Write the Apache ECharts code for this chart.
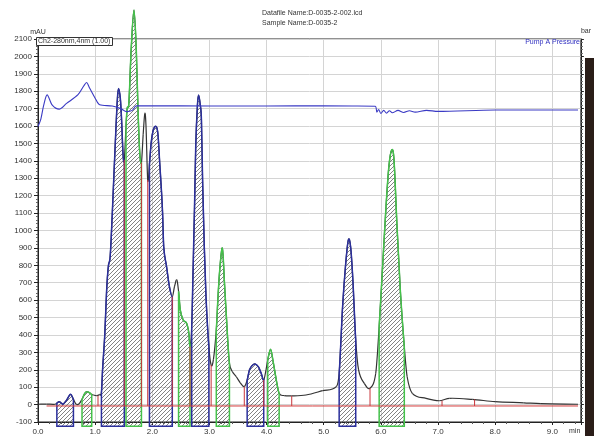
<!DOCTYPE html>
<html><head><meta charset="utf-8">
<script src="https://cdn.jsdelivr.net/npm/echarts@6/dist/echarts.min.js"></script>
<style>html,body{margin:0;padding:0;background:#fff}#c{width:594px;height:436px}</style>
</head><body><div id="c"></div>
<script>
// ---- chromatogram trace (time in min, signal in mAU) ----
const traceT = [0.00,0.15,0.30,0.33,0.37,0.41,0.44,0.50,0.57,0.62,0.67,0.72,0.77,0.82,0.86,0.90,0.94,0.97,1.02,1.08,
  1.11,1.13,1.17,1.20,1.23,1.26,1.28,1.31,1.36,1.39,1.41,1.44,1.46,1.49,1.51,1.54,1.56,1.59,1.63,1.68,1.72,1.75,1.78,1.81,
  1.84,1.87,1.89,1.92,1.95,1.98,2.02,2.07,2.10,2.13,2.16,2.18,2.20,2.25,2.30,2.35,2.39,2.43,2.46,2.49,2.54,2.60,2.64,2.66,
  2.69,2.71,2.74,2.76,2.79,2.81,2.84,2.86,2.88,2.91,2.94,2.99,3.03,3.07,3.12,3.15,3.18,3.22,3.24,3.26,3.32,3.35,3.40,3.47,
  3.54,3.61,3.66,3.70,3.75,3.80,3.86,3.91,3.95,3.99,4.02,4.07,4.11,4.17,4.22,4.31,4.44,4.69,4.98,5.22,5.27,5.33,5.38,5.43,
  5.47,5.51,5.56,5.61,5.71,5.81,5.91,5.97,6.03,6.09,6.14,6.19,6.23,6.28,6.34,6.41,6.46,6.55,6.79,7.02,7.20,7.60,8.00,8.50,8.80,9.45];
const traceV = [2,3,2,8,17,8,3,25,59,30,2,5,30,65,74,68,58,55,51,58,
  70,200,411,650,792,840,950,1175,1559,1760,1815,1760,1654,1430,1405,1600,1700,1730,2037,2266,2037,1692,1450,1390,
  1550,1673,1600,1290,1380,1502,1580,1596,1550,1388,1230,1100,907,792,677,620,680,716,650,543,486,467,410,333,
  450,716,1150,1482,1720,1778,1720,1635,1290,907,620,333,227,260,429,620,773,898,850,716,371,237,190,160,
  125,103,140,199,225,233,215,175,141,200,256,318,256,141,65,52,50,55,80,103,180,562,792,945,
  907,716,371,199,122,94,180,447,792,1137,1367,1463,1405,1041,658,333,160,65,36,22,36,30,17,10,5,2];

// ---- pump A pressure trace ----
const pressureT = [0.00,0.05,0.10,0.16,0.25,0.37,0.50,0.70,0.80,0.85,0.90,1.00,1.08,1.30,1.45,1.55,1.65,1.72,2.50,3.50,4.50,5.50,5.90,
  5.93,5.96,6.00,6.05,6.10,6.15,6.20,6.30,6.40,6.50,6.60,6.80,7.00,8.00,9.45];
const pressureV = [1597,1640,1720,1779,1720,1697,1730,1780,1830,1850,1820,1760,1722,1715,1700,1683,1690,1716,1716,1715,1716,1715,1714,
  1680,1695,1672,1690,1674,1688,1676,1690,1678,1688,1680,1690,1684,1692,1692,1694];

// ---- integrated peak regions ----
const regionStart = [0.33,0.77,1.11,1.54,1.95,2.46,2.69,3.12,3.66,4.02,5.27,5.97];
const regionEnd   = [0.62,0.94,1.51,1.81,2.35,2.66,2.99,3.35,3.95,4.22,5.56,6.41];
const regionKind  = ['b','g','b','g','b','g','b','g','b','g','b','g'];

// ---- peak number labels ----
const peakLabelT = [0.86,1.30,1.68,2.19,2.57,2.83,3.23,3.80,4.14,5.44,6.19];
const peakLabelV = [45,917,2000,898,413,1510,658,180,203,815,1286];
const peakLabelText = ['2','3','4','5','6','7','8','9','10','11','12'];

// ---- baseline drop lines ----
const dropT = [1.05,1.51,1.81,1.92,2.35,2.66,3.03,3.61,3.95,4.44,5.81,7.07,7.64];
const dropV = [51,1405,1390,1290,620,333,227,103,141,50,94,22,30];
const baselineValue = -8;
const baselineRange = [0.15,9.45];
const boxFloor = -125;

// ---- axis ticks ----
const yMin = -100, yMax = 2100, yStep = 100;
const xMin = 0, xMax = 9.5, xStep = 1;

const kindColor = {b:'#2b2f9c', g:'#44c24a'};

const hatch = document.createElement('canvas');
hatch.width = 4; hatch.height = 4;
(function(){
  const c = hatch.getContext('2d');
  c.strokeStyle = '#5a5a5a'; c.lineWidth = 0.75;
  c.beginPath();
  c.moveTo(0,4); c.lineTo(4,0);
  c.moveTo(-1,1); c.lineTo(1,-1);
  c.moveTo(3,5); c.lineTo(5,3);
  c.stroke();
})();

// cubic Hermite (x-monotone) spline through pixel points -> SVG path commands
function slopes(p){
  const n = p.length, m = [];
  for (let i = 0; i < n; i++) {
    const a = p[Math.max(0,i-1)], b = p[Math.min(n-1,i+1)];
    m.push((b[1]-a[1]) / ((b[0]-a[0]) || 1e-6));
  }
  return m;
}
function segCmd(p, m, i){
  const a = p[i], b = p[i+1], dx = (b[0]-a[0]) / 3;
  return 'C' + (a[0]+dx) + ' ' + (a[1]+m[i]*dx) + ' ' + (b[0]-dx) + ' ' + (b[1]-m[i+1]*dx) + ' ' + b[0] + ' ' + b[1];
}

function regionIdx(i){
  const ts = regionStart[i], te = regionEnd[i], idx = [];
  for (let k = 0; k < traceT.length; k++) if (traceT[k] >= ts - 1e-9 && traceT[k] <= te + 1e-9) idx.push(k);
  return idx;
}

const chart = echarts.init(document.getElementById('c'), null, {renderer:'canvas'});
const font = 'Liberation Sans, Arial, sans-serif';
const tracePts = traceT.map((t,i)=>[t,traceV[i]]);

chart.setOption({
  animation:false,
  textStyle:{fontFamily:font},
  title:[
    {text:'Datafile Name:D-0035-2-002.lcd\nSample Name:D-0035-2', left:262, top:8, padding:0,
     textStyle:{fontSize:7, fontWeight:'normal', color:'#333', lineHeight:10, fontFamily:font}},
    {text:'Ch2-280nm,4nm (1.00)', left:36, top:37, padding:[1,2,1,2], borderColor:'#333', borderWidth:1, backgroundColor:'#fff',
     textStyle:{fontSize:7, fontWeight:'normal', color:'#333', fontFamily:font}},
    {text:'Pump A Pressure', right:14, top:39, padding:0,
     textStyle:{fontSize:7, fontWeight:'normal', color:'#2f2fc0', fontFamily:font}}
  ],
  grid:{left:38, right:12, top:39, bottom:14, show:true, borderColor:'#222', borderWidth:1, containLabel:false},
  xAxis:{type:'value', min:xMin, max:xMax, interval:xStep,
    axisLine:{onZero:false, lineStyle:{color:'#222'}},
    axisTick:{show:true, length:3, lineStyle:{color:'#222'}},
    minorTick:{show:true, splitNumber:5, length:2, lineStyle:{color:'#555'}},
    axisLabel:{fontSize:8, color:'#333', margin:6, showMaxLabel:false,
      formatter:v => Math.abs(v - Math.round(v)) < 1e-6 ? v.toFixed(1) : ''},
    splitLine:{show:true, lineStyle:{color:'#d4d4d4', width:1}}
  },
  yAxis:[
    {type:'value', min:yMin, max:yMax, interval:yStep, name:'mAU', nameGap:1,
     nameTextStyle:{fontSize:7, color:'#333', align:'center'},
     axisLine:{show:true, lineStyle:{color:'#222'}},
     axisTick:{show:true, length:4, lineStyle:{color:'#222'}},
     minorTick:{show:true, splitNumber:5, length:2, lineStyle:{color:'#666'}},
     axisLabel:{fontSize:8, color:'#333', margin:6, formatter:v => String(v)},
     splitLine:{show:true, lineStyle:{color:'#d4d4d4', width:1}}},
    {type:'value', min:yMin, max:yMax, interval:yStep, position:'right', name:'bar', nameGap:4,
     nameTextStyle:{fontSize:7, color:'#333', align:'left'},
     axisLine:{show:true, lineStyle:{color:'#222'}},
     axisTick:{show:true, length:3, lineStyle:{color:'#222'}},
     minorTick:{show:true, splitNumber:5, length:2, lineStyle:{color:'#666'}},
     axisLabel:{show:false}, splitLine:{show:false}}
  ],
  graphic:[
    {type:'rect', shape:{x:585, y:58, width:9, height:378}, style:{fill:'#2a1d18'}, z:100},
    {type:'text', x:569, y:428, style:{text:'min', fontSize:7, fill:'#333', fontFamily:font}, z:100}
  ],
  series:[
    {type:'custom', name:'signal', clip:false, z:2,
     data:tracePts.slice(0,-1).map((p,i)=>[p[0], p[1], i]),
     encode:{x:0, y:1},
     renderItem:function(params, api){
       const px = tracePts.map(p => api.coord(p));
       const m = slopes(px);
       const i = api.value(2);
       const d = 'M' + px[i][0] + ' ' + px[i][1] + segCmd(px, m, i);
       return {type:'path', shape:{pathData:d}, style:{fill:null, stroke:'#333', lineWidth:1.2}};
     }},
    {type:'custom', name:'regions', clip:false, z:3,
     data:regionStart.map((s,i)=>[s, regionEnd[i], i]),
     encode:{x:[0,1]},
     renderItem:function(params, api){
       const i = api.value(2);
       const px = tracePts.map(p => api.coord(p));
       const m = slopes(px);
       const idx = regionIdx(i);
       const f0 = api.coord([regionStart[i], boxFloor]), f1 = api.coord([regionEnd[i], boxFloor]);
       let d = 'M' + f0[0] + ' ' + f0[1] + 'L' + px[idx[0]][0] + ' ' + px[idx[0]][1];
       for (let j = 0; j < idx.length-1; j++) d += segCmd(px, m, idx[j]);
       d += 'L' + f1[0] + ' ' + f1[1] + 'Z';
       return {type:'path', shape:{pathData:d},
         style:{fill:{image:hatch, repeat:'repeat'}, stroke:kindColor[regionKind[i]], lineWidth:1.5}};
     }},
    {type:'line', name:'baseline', data:baselineRange.map(t=>[t, baselineValue]), showSymbol:false, z:4,
     lineStyle:{color:'#d23a3a', width:1}},
    {type:'custom', name:'drops', clip:false, z:4,
     data:dropT.map((t,i)=>[t, dropV[i]]),
     encode:{x:0, y:1},
     renderItem:function(params, api){
       const a = api.coord([api.value(0), baselineValue]);
       const b = api.coord([api.value(0), api.value(1)]);
       return {type:'line', shape:{x1:a[0], y1:a[1], x2:b[0], y2:b[1]}, style:{stroke:'#c8353a', lineWidth:1}};
     }},
    {type:'line', name:'Pump A Pressure', data:pressureT.map((t,i)=>[t,pressureV[i]]), showSymbol:false, z:5,
     smooth:0.3, lineStyle:{color:'#3a3ac4', width:1.1}},
    {type:'scatter', name:'labels', symbolSize:1, z:6, itemStyle:{opacity:0},
     data:peakLabelT.map((t,i)=>[t, peakLabelV[i], peakLabelText[i]]),
     label:{show:true, position:'inside', formatter:p => p.data[2], fontSize:6, color:'#333'}}
  ]
});
</script></body></html>
